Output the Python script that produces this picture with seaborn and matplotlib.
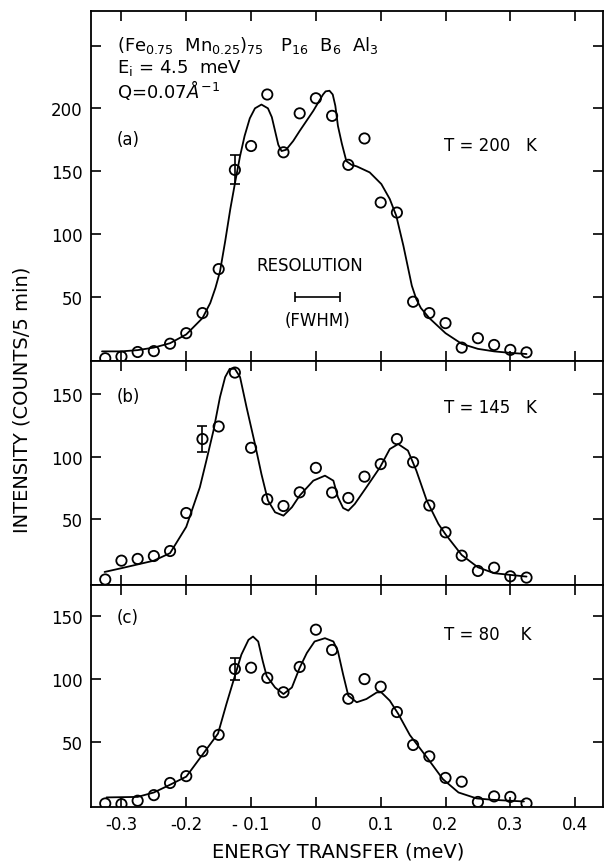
#!/usr/bin/env python3

import numpy as np
import pandas as pd
import matplotlib
matplotlib.use("Agg")
import matplotlib.pyplot as plt
import seaborn as sns

# energy transfer grid of the measured points (meV)
energy = [-0.325, -0.30, -0.275, -0.25, -0.225, -0.20, -0.175, -0.15, -0.125,
          -0.10, -0.075, -0.05, -0.025, 0.0, 0.025, 0.05, 0.075, 0.10, 0.125,
          0.15, 0.175, 0.20, 0.225, 0.25, 0.275, 0.30, 0.325]

# (a) T = 200 K
counts_a = [1, 2.3, 6, 6.7, 12.6, 21, 37, 72, 151, 170, 211, 165, 196, 208, 194,
            155, 176, 125, 117, 46, 37, 29, 9.5, 17, 11.6, 7.7, 5.7]
fit_a_x = [-0.33, -0.30, -0.275, -0.25, -0.225, -0.20, -0.175, -0.163, -0.155,
           -0.148, -0.140, -0.132, -0.125, -0.117, -0.110, -0.102, -0.094, -0.084,
           -0.074, -0.068, -0.063, -0.058, -0.053, -0.046, -0.035, -0.025, -0.004,
           0.011, 0.015, 0.021, 0.026, 0.030, 0.034, 0.040, 0.047, 0.055, 0.063,
           0.083, 0.101, 0.114, 0.124, 0.135, 0.148, 0.155, 0.162, 0.175, 0.20,
           0.225, 0.25, 0.275, 0.30, 0.325]
fit_a_y = [6.5, 6.5, 7.5, 9.5, 13, 20, 33, 45, 57, 70, 94, 120, 140, 162, 178, 192,
           200, 203, 200, 193, 182, 171, 166, 167, 174, 182, 198, 211, 213.5, 214,
           211, 202, 186, 172, 158, 155, 153.8, 149, 139.7, 127.8, 114.5, 90.6,
           58.8, 48, 41, 33, 21, 12.5, 8.5, 6.5, 5.3, 4.4]

# (b) T = 145 K
counts_b = [2, 17, 18.4, 20.7, 24.7, 55, 114, 124, 167, 107, 66, 60.6, 71.5, 91,
            71.3, 67, 84, 94, 114, 95.5, 61, 39.6, 21, 8.8, 11.4, 4.5, 3.5]
fit_b_x = [-0.326, -0.30, -0.275, -0.25, -0.225, -0.20, -0.179, -0.169, -0.158,
           -0.148, -0.140, -0.133, -0.125, -0.117, -0.107, -0.094, -0.084, -0.074,
           -0.063, -0.050, -0.037, -0.025, -0.004, 0.014, 0.027, 0.034, 0.042,
           0.050, 0.060, 0.078, 0.099, 0.114, 0.127, 0.142, 0.155, 0.171, 0.189,
           0.20, 0.225, 0.25, 0.275, 0.325]
fit_b_y = [8, 11, 14, 17, 23, 44, 75.6, 96.8, 120.8, 147.4, 163.4, 170, 170, 163.4,
           139.4, 110, 86, 65, 55.6, 52.9, 59.6, 68.9, 80.8, 84.8, 80.8, 67.6, 59,
           56.9, 62.2, 75.6, 91.5, 106, 110, 104.8, 88.8, 65, 46.3, 38, 21.5, 11.7,
           7, 4.3]

# (c) T = 80 K
counts_c = [1.8, 1.3, 4, 8.4, 18, 23.4, 43, 56, 108, 109, 101, 89.6, 109.6, 139,
            123, 84.5, 100, 94, 74, 48, 39, 22, 19, 3, 7.4, 7, 1.8]
fit_c_x = [-0.323, -0.275, -0.25, -0.225, -0.20, -0.174, -0.151, -0.138, -0.125,
           -0.115, -0.104, -0.097, -0.089, -0.082, -0.076, -0.063, -0.050, -0.037,
           -0.025, -0.014, -0.002, 0.014, 0.027, 0.034, 0.042, 0.050, 0.063, 0.078,
           0.094, 0.101, 0.114, 0.127, 0.145, 0.173, 0.196, 0.22, 0.248, 0.273,
           0.321]
fit_c_y = [6.6, 7, 10.5, 16.6, 23, 41, 57, 80.4, 102.5, 119.3, 131, 133.6, 129.7,
           114.2, 102.5, 93.4, 88.2, 93.4, 109, 120.6, 129.7, 132.3, 129.7, 121.9,
           103.7, 86.9, 81.7, 84.3, 89.5, 89.5, 83, 72.6, 55.8, 37, 21, 10.5, 5.8,
           4.7, 3.4]

# one representative error bar per panel: (x, y, low, high)
err_a = (-0.125, 151, 140, 163)
err_b = (-0.175, 114, 104, 124)
err_c = (-0.125, 108, 99, 117)

# instrumental resolution (FWHM) bar
res_x = [-0.033, 0.037]
res_y = 50

x_ticks = [-0.3, -0.2, -0.1, 0.0, 0.1, 0.2, 0.3, 0.4]
x_tick_labels = ["-0.3", "-0.2", "- 0.1", "0", "0.1", "0.2", "0.3", "0.4"]

sns.set_style("ticks")
plt.rcParams["font.family"] = ["DejaVu Sans"]
plt.rcParams["mathtext.fontset"] = "dejavusans"
for key in ["text.color", "axes.labelcolor", "xtick.color", "ytick.color",
            "axes.edgecolor"]:
    plt.rcParams[key] = "black"

fig = plt.figure(figsize=(6.05, 8.62), dpi=100)
left, width = 0.1504, 0.8463
ax_a = fig.add_axes([left, 0.5797, width, 0.4067])
ax_b = fig.add_axes([left, 0.3202, width, 0.2595])
ax_c = fig.add_axes([left, 0.0626, width, 0.2576])

panels = [
    (ax_a, counts_a, fit_a_x, fit_a_y, err_a, (-1.4, 277.7), [50, 100, 150, 200, 250],
     ["50", "100", "150", "200", ""], "(a)", "T = 200   K", 0.634, 0.617),
    (ax_b, counts_b, fit_b_x, fit_b_y, err_b, (-2.4, 176), [50, 100, 150],
     ["50", "100", "150"], "(b)", "T = 145   K", 0.845, 0.796),
    (ax_c, counts_c, fit_c_x, fit_c_y, err_c, (-1.0, 174.3), [50, 100, 150],
     ["50", "100", "150"], "(c)", "T = 80    K", 0.856, 0.779),
]

for ax, counts, fx, fy, err, ylim, yt, ytl, tag, temp, ty_tag, ty_temp in panels:
    pts = pd.DataFrame({"E": energy, "I": counts})
    fit = pd.DataFrame({"E": fx, "I": fy})
    sns.lineplot(data=fit, x="E", y="I", ax=ax, color="black", lw=1.3,
                 sort=False, estimator=None)
    sns.scatterplot(data=pts, x="E", y="I", ax=ax, marker="o", s=55,
                    facecolor="none", edgecolor="black", linewidth=1.3, zorder=3)
    ex, ey, lo, hi = err
    ax.errorbar([ex], [ey], yerr=[[ey - lo], [hi - ey]], fmt="none",
                ecolor="black", elinewidth=1.2, capsize=3.5, capthick=1.2)

    ax.set_xlim(-0.347, 0.443)
    ax.set_ylim(*ylim)
    ax.set_xticks(x_ticks)
    ax.set_yticks(yt)
    ax.set_yticklabels(ytl)
    ax.set_xlabel("")
    ax.set_ylabel("")
    ax.tick_params(direction="in", length=7, width=1.2, top=True, right=True,
                   labelsize=12, pad=6)
    for s in ax.spines.values():
        s.set_linewidth(1.3)
    ax.text(0.051, ty_tag, tag, transform=ax.transAxes, fontsize=12,
            va="center", ha="left")
    ax.text(0.69, ty_temp, temp, transform=ax.transAxes, fontsize=12,
            va="center", ha="left")
    if ax is ax_c:
        ax.set_xticklabels(x_tick_labels)
    else:
        ax.set_xticklabels([])

# panel (a) annotations
ax_a.text(0.051, 0.905,
          r"(Fe$_{0.75}$  Mn$_{0.25}$)$_{75}$   P$_{16}$  B$_{6}$  Al$_{3}$",
          transform=ax_a.transAxes, fontsize=13, va="center", ha="left")
ax_a.text(0.051, 0.84, r"E$_{\rm i}$ = 4.5  meV", transform=ax_a.transAxes,
          fontsize=13, va="center", ha="left")
ax_a.text(0.051, 0.776, r"Q=0.07$\AA^{-1}$", transform=ax_a.transAxes,
          fontsize=13, va="center", ha="left")

ax_a.errorbar([np.mean(res_x)], [res_y], xerr=[(res_x[1] - res_x[0]) / 2],
              fmt="none", ecolor="black", elinewidth=1.2, capsize=3.5, capthick=1.2)
ax_a.text(np.mean(res_x) - 0.012, 75, "RESOLUTION", fontsize=12,
          ha="center", va="center")
ax_a.text(np.mean(res_x), 31.5, "(FWHM)", fontsize=12, ha="center", va="center")

fig.text(0.036, 0.536, "INTENSITY (COUNTS/5 min)", rotation=90, fontsize=14,
         ha="center", va="center")
fig.text(0.559, 0.0116, "ENERGY TRANSFER (meV)", fontsize=14,
         ha="center", va="center")

fig.savefig("out.png", dpi=100)
